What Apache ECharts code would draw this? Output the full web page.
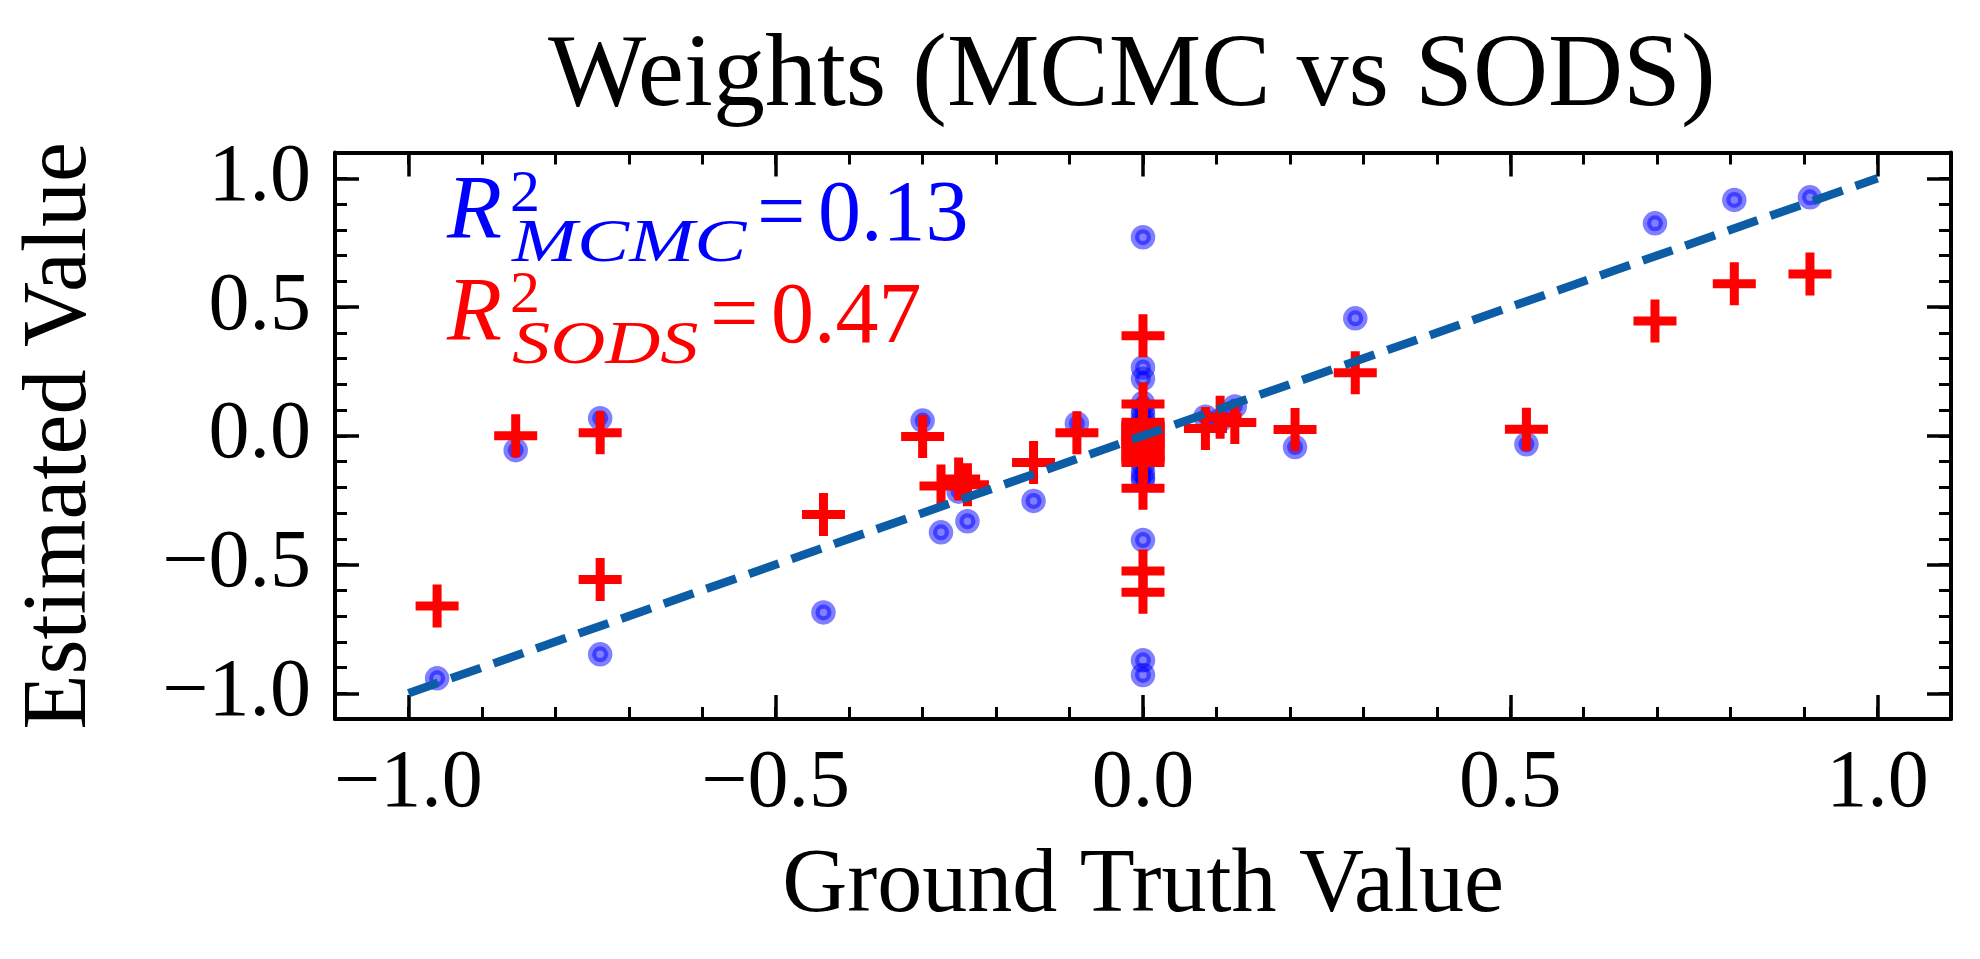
<!DOCTYPE html>
<html>
<head>
<meta charset="utf-8">
<style>
  html, body { margin: 0; padding: 0; background: #ffffff; }
  #chart { width: 1980px; height: 959px; }
</style>
<script src="https://cdn.jsdelivr.net/npm/echarts@6/dist/echarts.min.js"></script>
</head>
<body>
<div id="chart"></div>
<script>
// ---------------- data ----------------
const groundTruth = [
  -0.961, -0.854, -0.739, -0.739, -0.435, -0.300, -0.275, -0.251, -0.239, -0.149,
  -0.090, 0.085, 0.105, 0.125, 0.207, 0.289, 0.522, 0.697, 0.805, 0.908,
  0, 0, 0, 0, 0, 0, 0, 0, 0, 0,
  0, 0, 0, 0, 0, 0, 0, 0, 0, 0
];
const mcmcValues = [
  -0.942, -0.056, 0.068, -0.849, -0.686, 0.059, -0.375, -0.217, -0.332, -0.253,
  0.048, 0.074, 0.060, 0.114, -0.044, 0.456, -0.033, 0.825, 0.916, 0.926,
  0.771, 0.265, 0.221, 0.127, 0.100, 0.080, 0.060, 0.040, 0.020, 0.000,
  -0.020, -0.050, -0.080, -0.110, -0.140, -0.160, -0.172, -0.405, -0.872, -0.929
];
const sodsValues = [
  -0.661, 0.000, 0.012, -0.558, -0.306, -0.003, -0.195, -0.168, -0.190, -0.104,
  0.012, 0.028, 0.072, 0.051, 0.024, 0.245, 0.025, 0.446, 0.590, 0.628,
  0.388, 0.123, 0.052, 0.040, 0.030, 0.020, 0.010, 0.000, -0.010, -0.020,
  -0.030, -0.040, -0.050, -0.070, -0.080, -0.090, -0.104, -0.204, -0.525, -0.608
];
const refLineX = [-1, 1];
const refLineY = [-1, 1];
const majorTicks = [-1.0, -0.5, 0.0, 0.5, 1.0];
const minorTicks = [-1.0, -0.9, -0.8, -0.7, -0.6, -0.5, -0.4, -0.3, -0.2, -0.1, 0.0,
                    0.1, 0.2, 0.3, 0.4, 0.5, 0.6, 0.7, 0.8, 0.9, 1.0];
const axisMin = -1.1, axisMax = 1.1;
const titleText = 'Weights (MCMC vs SODS)';
const xName = 'Ground Truth Value';
const yName = 'Estimated Value';
const r2Mcmc = '0.13';
const r2Sods = '0.47';

// ---------------- styling ----------------
const FONT = "'Liberation Serif', 'Times New Roman', serif";
const BLUE = '#0000ff';
const RED = '#ff0000';
const LINE_COLOR = '#0C5DA5';

const fmt = v => (v < 0 ? '\u2212' : '') + Math.abs(v).toFixed(1);

function majorAxis(position, showLabels, extra) {
  return Object.assign({
    type: 'value', min: axisMin, max: axisMax, position: position,
    axisLine: { show: true, onZero: false, lineStyle: { color: '#000', width: 4 } },
    axisTick: { show: true, inside: true, length: 24, customValues: majorTicks,
                lineStyle: { color: '#000', width: 3.5 } },
    axisLabel: showLabels ? { show: true, customValues: majorTicks, formatter: fmt,
                fontSize: 82, lineHeight: 82, fontFamily: FONT, color: '#000', margin: 24 }
              : { show: false },
    splitLine: { show: false },
    minorTick: { show: false },
    minorSplitLine: { show: false }
  }, extra || {});
}
function minorAxis(position) {
  return {
    type: 'value', min: axisMin, max: axisMax, position: position,
    axisLine: { show: false, onZero: false },
    axisTick: { show: true, inside: true, length: 12, customValues: minorTicks,
                lineStyle: { color: '#000', width: 3 } },
    axisLabel: { show: false },
    splitLine: { show: false }
  };
}

const mcmcData = groundTruth.map((g, i) => [g, mcmcValues[i]]);
const sodsData = groundTruth.map((g, i) => [g, sodsValues[i]]);
const lineData = refLineX.map((x, i) => [x, refLineY[i]]);

const plusPath = 'path://M-4.5,-21.5L4.5,-21.5L4.5,-4.5L21.5,-4.5L21.5,4.5L4.5,4.5L4.5,21.5L-4.5,21.5L-4.5,4.5L-21.5,4.5L-21.5,-4.5L-4.5,-4.5Z';

function txt(x, y, text, size, color, italic, sx) {
  return {
    type: 'text', x: x, y: y, scaleX: sx || 1, silent: true, z: 20,
    style: {
      text: text, x: 0, y: 0, fill: color,
      fontSize: size, fontFamily: FONT, fontStyle: italic ? 'italic' : 'normal',
      align: 'left', verticalAlign: 'middle',
      textAlign: 'left', textVerticalAlign: 'middle'
    }
  };
}

const chart = echarts.init(document.getElementById('chart'), null, { renderer: 'canvas' });
chart.setOption({
  animation: false,
  backgroundColor: '#ffffff',
  title: {
    text: titleText, left: 548, top: 26, padding: 0,
    textStyle: { fontSize: 104, lineHeight: 104, fontFamily: FONT, fontWeight: 'normal', color: '#000' }
  },
  grid: { left: 335, top: 152.5, width: 1616, height: 566.5, containLabel: false, outerBoundsMode: 'none' },
  xAxis: [
    majorAxis('bottom', true, {
      name: xName, nameLocation: 'middle', nameGap: 123,
      nameTextStyle: { fontSize: 90, lineHeight: 90, fontFamily: FONT, color: '#000' }
    }),
    minorAxis('bottom'),
    majorAxis('top', false),
    minorAxis('top')
  ],
  yAxis: [
    majorAxis('left', true, {
      name: yName, nameLocation: 'middle', nameGap: 229,
      nameTextStyle: { fontSize: 90, lineHeight: 90, fontFamily: FONT, color: '#000' }
    }),
    minorAxis('left'),
    majorAxis('right', false),
    minorAxis('right')
  ],
  series: [
    {
      name: 'MCMC', type: 'scatter', xAxisIndex: 0, yAxisIndex: 0, z: 2,
      data: mcmcData, symbol: 'circle', symbolSize: 16,
      itemStyle: { color: 'rgba(0,0,255,0.5)', borderColor: 'rgba(0,0,255,0.5)', borderWidth: 8.5, opacity: 1 },
      emphasis: { disabled: true }, silent: true
    },
    {
      name: 'SODS', type: 'scatter', xAxisIndex: 0, yAxisIndex: 0, z: 3,
      data: sodsData, symbol: plusPath, symbolSize: 43,
      itemStyle: { color: RED, borderWidth: 0, opacity: 1 },
      emphasis: { disabled: true }, silent: true
    },
    {
      name: 'y = x', type: 'line', xAxisIndex: 0, yAxisIndex: 0, z: 4,
      data: lineData, showSymbol: false, symbol: 'none',
      lineStyle: { color: LINE_COLOR, width: 8.5, type: [31.5, 13.6], cap: 'butt' },
      emphasis: { disabled: true }, silent: true
    }
  ],
  graphic: [
    txt(447, 214.6, 'R', 90, BLUE, true),
    txt(510, 194.8, '2', 60, BLUE, false),
    txt(512, 245.1, 'MCMC', 62, BLUE, true, 1.26),
    txt(757, 217, '=', 86, BLUE, false),
    txt(818, 217, r2Mcmc, 86, BLUE, false),
    txt(447, 316.6, 'R', 90, RED, true),
    txt(510, 296.4, '2', 60, RED, false),
    txt(512, 347, 'SODS', 62, RED, true, 1.23),
    txt(710, 319, '=', 86, RED, false),
    txt(771, 319, r2Sods, 86, RED, false)
  ]
});
</script>
</body>
</html>
